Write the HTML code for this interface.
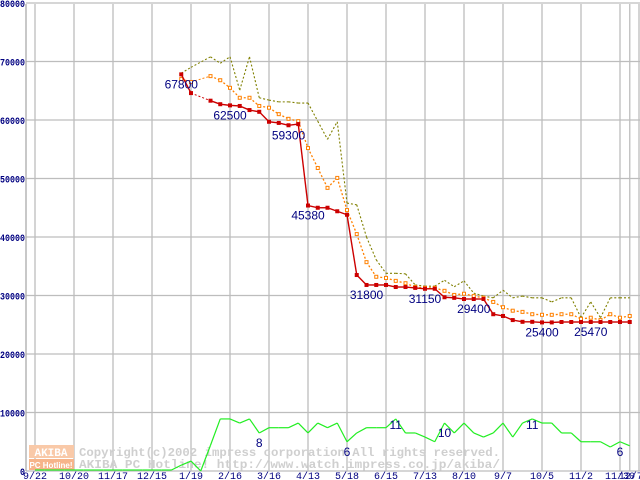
<!DOCTYPE html>
<html><head><meta charset="utf-8"><style>
html,body{margin:0;padding:0;background:#fff;}
svg{display:block;font-family:"Liberation Sans",sans-serif;}
</style></head><body>
<svg id="chart" width="640" height="480" viewBox="0 0 640 480" xmlns="http://www.w3.org/2000/svg"></svg>
<script>
const xTickLabels=["9/22","10/20","11/17","12/15","1/19","2/16","3/16","4/13","5/18","6/15","7/13","8/10","9/7","10/5","11/2","11/30"];
const lastTickLabel="12/7";
const yTicks=[0,10000,20000,30000,40000,50000,60000,70000,80000];
const redStart=15;
const redValues=[67800,64600,null,63300,62700,62500,62400,61700,61400,59700,59500,59100,59300,45380,45000,45000,44400,43800,33500,31800,31800,31800,31450,31450,31300,31150,31150,29700,29600,29400,29400,29400,26800,26500,25800,25500,25500,25400,25400,25470,25470,25470,25470,25470,25470,25470,25470];
const orangeValues=[67000,66500,null,67500,66800,65500,63800,63800,62400,62100,61000,60200,59800,55200,51800,48400,50100,44600,40500,35700,33200,33000,32500,32100,31450,31300,31300,30800,30100,30300,29900,29600,28900,28000,27400,27200,26800,26700,26700,26800,26800,26000,26200,25800,26800,26200,26500];
const oliveValues=[68000,69000,null,70800,69700,70800,65100,70800,63800,63400,63100,63100,62900,62900,59800,56700,59700,45800,45500,40000,36100,33800,33800,33700,31800,31600,31600,32600,31500,32500,30400,29900,29600,30900,29600,29900,29600,29600,28900,29600,29600,26200,28900,26200,29600,29600,29600];
const greenValues=[170,170,170,170,170,170,170,170,170,170,170,170,170,170,170,1000,1700,0,4400,8900,8900,8200,8900,6500,7400,7400,7400,8200,6500,8200,7400,8200,5000,6500,7400,7400,7400,8900,6500,6500,5800,5000,8200,6500,8200,6500,5800,6500,8200,5800,8200,8900,8200,8200,6500,6500,5000,5000,5000,4100,5000,4300];
const priceLabels=[["67800",0],["62500",5],["59300",11],["45380",13],["31800",19],["31150",25],["29400",30],["25400",37],["25470",42]];
const countLabels=[["8",23,0],["6",32,0],["11",37,1],["10",42,0],["11",51,1],["6",60,0]];

const NS="http://www.w3.org/2000/svg";
const svg=document.getElementById('chart');
const X=k=>35+9.75*k;
const Y=v=>471-v*0.00585;
function el(t,a,p){const e=document.createElementNS(NS,t);for(const k in a)e.setAttribute(k,a[k]);(p||svg).appendChild(e);return e;}

const grid=el('g',{});


yTicks.forEach(v=>{
  const l=el('line',{x1:26,x2:640,y1:Y(v),y2:Y(v),stroke:'#bdbdbd','stroke-width':1.3},grid);
  
  
  const s=String(v);
  const t=el('text',{x:25,y:Y(v)+4,'text-anchor':'end','font-size':10,'font-weight':'bold',fill:'#000080','font-family':'Liberation Mono, monospace',textLength:5*s.length,lengthAdjust:'spacingAndGlyphs'});
  t.textContent=s;
  
  
});
xTickLabels.forEach((s,i)=>{
  const x=X(i*4);
  const l=el('line',{x1:x,x2:x,y1:4,y2:471,stroke:'#bdbdbd','stroke-width':1.3},grid);
  
  
  const t=el('text',{x:x,y:479,'text-anchor':'middle','font-size':10,fill:'#000080','font-family':'Liberation Mono, monospace'});
  t.textContent=s;
  
  
});
{const x=X(61);
 const l=el('line',{x1:x,x2:x,y1:4,y2:471,stroke:'#bdbdbd','stroke-width':1.3},grid);
 
 
 const t=el('text',{x:x+1,y:479,'text-anchor':'middle','font-size':10,fill:'#000080','font-family':'Liberation Mono, monospace'});
 t.textContent=lastTickLabel;
 
 }
const ax=el('line',{x1:26,x2:26,y1:4,y2:471,stroke:'#aaa','stroke-width':1.3});


const rb=el('line',{x1:639,x2:639,y1:4,y2:471,stroke:'#bdbdbd','stroke-width':1.3});



// watermark
const wm=el('g',{});


el('rect',{x:29,y:445,width:45,height:13,fill:'#f9c9a8'},wm);
el('rect',{x:29,y:459,width:45,height:11,fill:'#f6b48a'},wm);
const w1=el('text',{x:51,y:456,'text-anchor':'middle','font-size':11,'font-weight':'bold',fill:'#fff','font-family':'Liberation Mono, monospace'},wm);w1.textContent='AKIBA';
const w2=el('text',{x:51,y:468,'text-anchor':'middle','font-size':8,'font-weight':'bold',fill:'#fff'},wm);w2.textContent='PC Hotline!';
const w3=el('text',{x:79,y:456,'font-size':12,'font-weight':'bold',fill:'#cfcfcf','font-family':'Liberation Mono, monospace',textLength:421,lengthAdjust:'spacingAndGlyphs'},wm);w3.textContent='Copyright(c)2002 impress corporation All rights reserved.';
const w4=el('text',{x:79,y:468,'font-size':12,'font-weight':'bold',fill:'#cfcfcf','font-family':'Liberation Mono, monospace',textLength:421,lengthAdjust:'spacingAndGlyphs'},wm);w4.textContent='AKIBA PC Hotline!  http://www.watch.impress.co.jp/akiba/';

function series(vals,start,color,w,dash,name,marker){
  const g=el('g',{});
  
  
  let prev=null;
  vals.forEach((v,i)=>{
    if(v==null)return;
    const k=start+i;
    if(prev){
      const gap=k-prev[0]>1;
      const seg=el('line',{x1:X(prev[0]),y1:Y(prev[1]),x2:X(k),y2:Y(v),stroke:color,'stroke-width':gap?1:w},g);
      if(dash||gap)seg.setAttribute('stroke-dasharray','2,2');
      
      
    }
    prev=[k,v];
  });
  if(marker){
    vals.forEach((v,i)=>{
      if(v==null)return;
      const k=start+i;
      let m;
      if(marker==='filled')m=el('rect',{x:X(k)-2,y:Y(v)-2,width:4,height:4,fill:color},g);
      else m=el('rect',{x:X(k)-1.5,y:Y(v)-1.5,width:3,height:3,fill:'#fff',stroke:color,'stroke-width':1},g);
      
      
    });
  }
}
series(greenValues,0,'#22ee22',1.2,false,'green-count-line',null);
series(oliveValues,redStart,'#808000',1.1,true,'olive-max-line',null);
series(orangeValues,redStart,'#ff8000',1.3,true,'orange-avg-line','open');
series(redValues,redStart,'#cc0000',1.4,false,'red-min-line','filled');

priceLabels.forEach(([s,i])=>{
  const t=el('text',{x:X(redStart+i),y:Y(redValues[i])+14,'text-anchor':'middle','font-size':12,fill:'#000080'});
  t.textContent=s;
  
  
});
countLabels.forEach(([s,k,up])=>{
  const t=el('text',{x:X(k),y:Y(greenValues[k])+(up?10:14),'text-anchor':'middle','font-size':12,fill:'#000080'});
  t.textContent=s;
  
  
});
</script>
</body></html>
